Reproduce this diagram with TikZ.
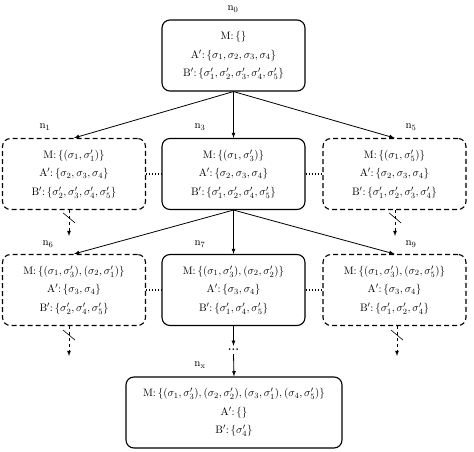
\documentclass[tikz,border=0pt]{standalone}
\usetikzlibrary{decorations.markings}
\usepackage{amsmath}
\usepackage{amssymb}
\newcommand{\sg}[1]{\sigma_{#1}}
\newcommand{\sgp}[1]{\sigma'_{#1}}

\tikzset{
    state/.style={draw, rounded corners=8pt, line width=1.1pt, minimum width=143pt, minimum height=71pt,
        align=center, inner sep=2pt, font=\fontsize{10.8}{18.5}\selectfont},
    pruned/.style={state, dash pattern=on 5pt off 3pt},
    tag/.style={inner sep=1pt, font=\fontsize{10.8}{12}\selectfont},
    link/.style={line width=1.2pt, dash pattern=on 1.3pt off 1.7pt},
    cut/.style={dashed, -latex, postaction={decorate, decoration={markings,
        mark=at position 0.3 with {\draw[solid,-,line width=0.6pt] (-5pt,-6pt) -- (5pt,6pt);}}}},
}

\begin{document}
\begin{tikzpicture}[x=1pt, y=-1pt, line width=0.8pt]
    \useasboundingbox (0,0) rectangle (474,452);

    \node[state] (n0) at (233.5,55.5) {M:\,$\{\}$\\ A$'$:\,$\{\sg1,\sg2,\sg3,\sg4\}$\\ B$'$:\,$\{\sgp1,\sgp2,\sgp3,\sgp4,\sgp5\}$};

    \node[pruned] (n1) at (74,174) {M:\,$\{(\sg1,\sgp1)\}$\\ A$'$:\,$\{\sg2,\sg3,\sg4\}$\\ B$'$:\,$\{\sgp2,\sgp3,\sgp4,\sgp5\}$};
    \node[state] (n3) at (233.5,174) {M:\,$\{(\sg1,\sgp3)\}$\\ A$'$:\,$\{\sg2,\sg3,\sg4\}$\\ B$'$:\,$\{\sgp1,\sgp2,\sgp4,\sgp5\}$};
    \node[pruned] (n5) at (394.5,174) {M:\,$\{(\sg1,\sgp5)\}$\\ A$'$:\,$\{\sg2,\sg3,\sg4\}$\\ B$'$:\,$\{\sgp1,\sgp2,\sgp3,\sgp4\}$};

    \node[pruned] (n6) at (74,290) {M:\,$\{(\sg1,\sgp3),(\sg2,\sgp1)\}$\\ A$'$:\,$\{\sg3,\sg4\}$\\ B$'$:\,$\{\sgp2,\sgp4,\sgp5\}$};
    \node[state] (n7) at (233.5,290) {M:\,$\{(\sg1,\sgp3),(\sg2,\sgp2)\}$\\ A$'$:\,$\{\sg3,\sg4\}$\\ B$'$:\,$\{\sgp1,\sgp4,\sgp5\}$};
    \node[pruned] (n9) at (394.5,290) {M:\,$\{(\sg1,\sgp3),(\sg2,\sgp5)\}$\\ A$'$:\,$\{\sg3,\sg4\}$\\ B$'$:\,$\{\sgp1,\sgp2,\sgp4\}$};

    \node[state, minimum width=216pt] (nx) at (234,412.5) {M:\,$\{(\sg1,\sgp3),(\sg2,\sgp2),(\sg3,\sgp1),(\sg4,\sgp5)\}$\\ A$'$:\,$\{\}$\\ B$'$:\,$\{\sgp4\}$};

    % node labels
    \node[tag] (l0) at (233,9) {$\mathrm{n}_0$};
    \node[tag] (l1) at (45,127) {$\mathrm{n}_1$};
    \node[tag] (l3) at (200,127) {$\mathrm{n}_3$};
    \node[tag] (l5) at (411,127) {$\mathrm{n}_5$};
    \node[tag] (l6) at (48,244) {$\mathrm{n}_6$};
    \node[tag] (l7) at (200,244) {$\mathrm{n}_7$};
    \node[tag] (l9) at (411,244) {$\mathrm{n}_9$};
    \node[tag] (lx) at (200,365) {$\mathrm{n}_\mathrm{x}$};

    \draw[-latex] (n0.south) -- (n1.north);
    \draw[-latex] (n0.south) -- (n3.north);
    \draw[-latex] (n0.south) -- (n5.north);

    \draw[-latex] (n3.south) -- (n6.north);
    \draw[-latex] (n3.south) -- (n7.north);
    \draw[-latex] (n3.south) -- (n9.north);

    \draw[link] (n1) -- (n3);
    \draw[link] (n3) -- (n5);
    \draw[link] (n6) -- (n7);
    \draw[link] (n7) -- (n9);

    % pruned branches
    \coordinate (c1) at (69,236);
    \coordinate (c5) at (395,236);
    \coordinate (c6) at (69,356);
    \coordinate (c9) at (397,356);
    \draw[cut] (n1.south -| c1) -- (c1);
    \draw[cut] (n5.south -| c5) -- (c5);
    \draw[cut] (n6.south -| c6) -- (c6);
    \draw[cut] (n9.south -| c9) -- (c9);

    \node[inner xsep=0pt, inner ysep=3pt, text height=1.5pt, text depth=0pt, font=\fontsize{12}{12}\bfseries] (dd) at (233.5,350) {...};
    \draw[-latex] (n7.south) -- (dd.north);
    \draw[-latex] (dd.south) -- (nx.north);

\end{tikzpicture}
\end{document}
